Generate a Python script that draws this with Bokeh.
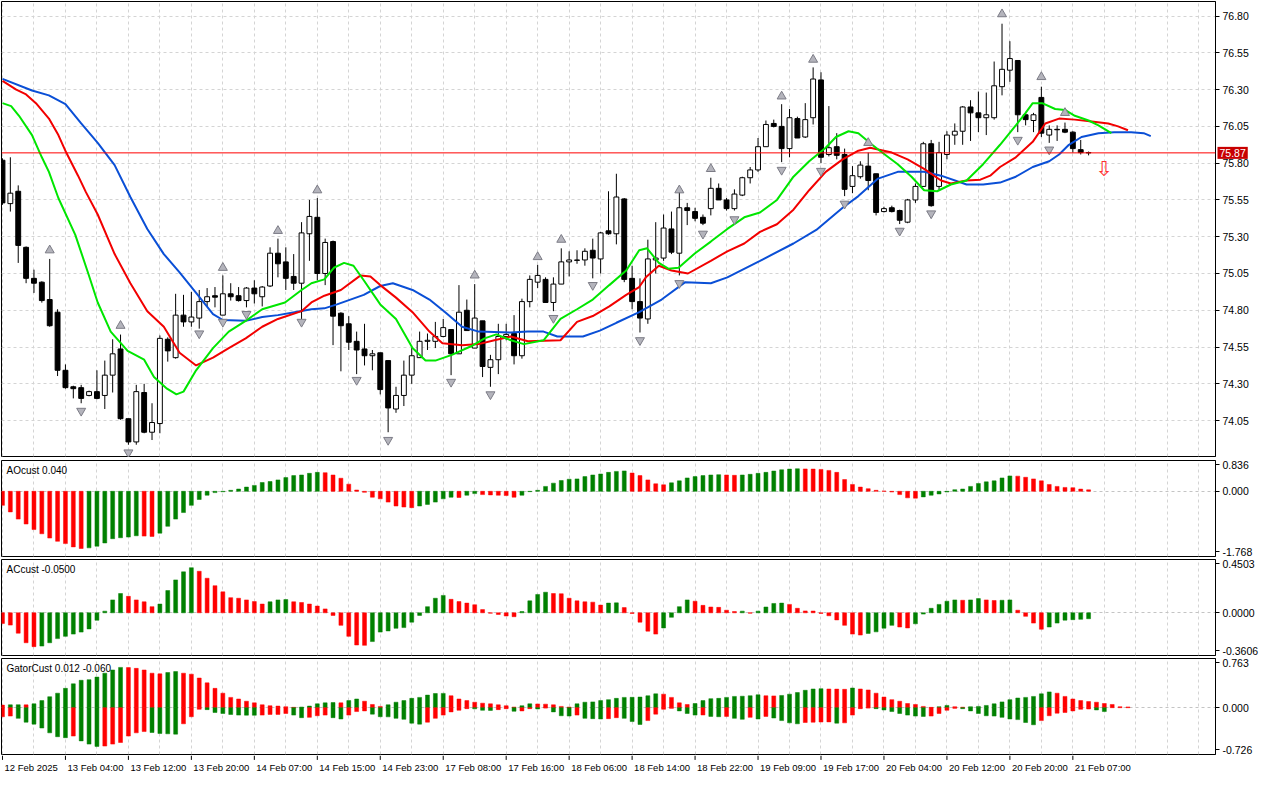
from bokeh.plotting import figure
from bokeh.models import Range1d, FixedTicker, Grid, Span, Label, PrintfTickFormatter
from bokeh.layouts import column
from bokeh.embed import file_html
from bokeh.resources import INLINE
from bokeh.core.properties import value

# ---------------- data ----------------
opens = [75.820, 75.525, 75.609, 75.228, 75.017, 74.991, 74.873, 74.787, 74.392, 74.280,
         74.274, 74.221, 74.247, 74.221, 74.359, 74.537, 74.063, 73.905, 74.241, 73.971,
         74.030, 74.603, 74.478, 74.767, 74.721, 74.747, 74.859, 74.899, 74.767, 74.912,
         74.899, 74.866, 74.951, 74.892, 74.965, 75.188, 75.129, 75.030, 74.984, 75.320,
         75.432, 75.050, 75.267, 74.780, 74.708, 74.589, 74.537, 74.491, 74.511, 74.458,
         74.129, 74.221, 74.359, 74.478, 74.589, 74.589, 74.622, 74.669, 74.504, 74.800,
         74.543, 74.728, 74.412, 74.464, 74.622, 74.642, 74.491, 74.859, 74.991, 75.010,
         74.853, 74.978, 75.129, 75.139, 75.142, 75.208, 75.149, 75.340, 75.320, 75.557,
         75.017, 74.859, 74.741, 75.142, 75.155, 75.353, 75.188, 75.497, 75.471, 75.432,
         75.491, 75.629, 75.550, 75.491, 75.583, 75.701, 75.754, 75.912, 76.070, 76.050,
         75.899, 76.103, 75.978, 76.109, 76.366, 75.859, 75.912, 75.859, 75.642, 75.708,
         75.780, 75.728, 75.471, 75.497, 75.478, 75.399, 75.550, 75.642, 75.932, 75.642,
         75.859, 75.991, 76.017, 76.182, 76.142, 76.109, 76.109, 76.320, 76.432, 76.498,
         76.129, 76.090, 76.247, 75.991, 76.030, 76.030, 76.011, 75.892, 75.872]
highs = [75.833, 75.840, 75.649, 75.234, 75.076, 74.997, 75.149, 74.807, 74.432, 74.287,
         74.293, 74.254, 74.392, 74.458, 74.603, 74.635, 74.063, 74.293, 74.300, 74.168,
         74.629, 74.616, 74.912, 74.905, 74.925, 74.938, 74.951, 74.958, 75.037, 74.984,
         74.958, 74.958, 75.004, 74.965, 75.228, 75.287, 75.228, 75.182, 75.399, 75.550,
         75.563, 75.287, 75.274, 74.787, 74.760, 74.655, 74.708, 74.530, 74.511, 74.458,
         74.280, 74.458, 74.543, 74.655, 74.642, 74.721, 74.741, 74.669, 74.971, 74.873,
         74.978, 74.728, 74.497, 74.708, 74.708, 74.767, 74.879, 75.037, 75.109, 75.024,
         75.024, 75.221, 75.201, 75.208, 75.221, 75.287, 75.333, 75.609, 75.728, 75.563,
         75.103, 75.017, 75.280, 75.399, 75.451, 75.471, 75.609, 75.530, 75.497, 75.451,
         75.701, 75.662, 75.563, 75.622, 75.708, 75.774, 75.971, 76.090, 76.096, 76.201,
         76.168, 76.116, 76.208, 76.451, 76.418, 76.188, 76.004, 75.899, 75.780, 75.813,
         75.872, 75.728, 75.504, 75.511, 75.484, 75.557, 75.662, 75.945, 75.958, 75.945,
         76.017, 76.070, 76.188, 76.228, 76.287, 76.280, 76.491, 76.748, 76.629, 76.498,
         76.142, 76.142, 76.320, 76.057, 76.057, 76.076, 76.017, 75.958, 75.879]
lows = [75.517, 75.471, 75.122, 74.984, 74.918, 74.852, 74.688, 74.353, 74.267, 74.201,
        74.168, 74.215, 74.195, 74.129, 74.241, 74.056, 73.886, 73.886, 73.964, 73.918,
        73.964, 74.451, 74.471, 74.688, 74.688, 74.675, 74.826, 74.820, 74.767, 74.866,
        74.859, 74.820, 74.846, 74.826, 74.958, 75.024, 74.938, 74.938, 74.741, 75.136,
        75.004, 74.971, 74.563, 74.385, 74.530, 74.366, 74.425, 74.392, 74.228, 73.971,
        74.103, 74.149, 74.300, 74.478, 74.530, 74.543, 74.616, 74.359, 74.504, 74.662,
        74.543, 74.346, 74.280, 74.366, 74.596, 74.432, 74.471, 74.820, 74.951, 74.853,
        74.794, 74.978, 75.030, 75.116, 75.103, 75.017, 75.050, 75.313, 75.248, 74.991,
        74.807, 74.649, 74.708, 75.050, 75.136, 75.182, 75.037, 75.379, 75.405, 75.379,
        75.445, 75.550, 75.478, 75.478, 75.576, 75.662, 75.741, 75.912, 76.043, 75.807,
        75.840, 75.971, 75.971, 76.063, 75.800, 75.846, 75.826, 75.576, 75.596, 75.695,
        75.616, 75.445, 75.465, 75.465, 75.386, 75.392, 75.530, 75.642, 75.504, 75.616,
        75.826, 75.925, 75.925, 75.951, 76.011, 75.991, 76.096, 76.261, 76.353, 76.011,
        76.057, 76.011, 75.978, 75.938, 75.951, 76.004, 75.872, 75.859, 75.853]
closes = [75.530, 75.596, 75.241, 75.017, 74.984, 74.866, 74.695, 74.392, 74.274, 74.267,
          74.201, 74.247, 74.201, 74.359, 74.504, 74.063, 73.905, 74.247, 73.971, 74.037,
          74.609, 74.524, 74.767, 74.721, 74.754, 74.859, 74.892, 74.889, 74.912, 74.892,
          74.866, 74.951, 74.912, 74.958, 75.188, 75.116, 75.017, 74.984, 75.326, 75.438,
          75.050, 75.261, 74.760, 74.695, 74.583, 74.530, 74.491, 74.504, 74.261, 74.136,
          74.221, 74.359, 74.491, 74.589, 74.596, 74.622, 74.682, 74.504, 74.787, 74.662,
          74.747, 74.418, 74.464, 74.622, 74.636, 74.491, 74.859, 75.010, 75.037, 74.853,
          74.978, 75.129, 75.142, 75.142, 75.201, 75.155, 75.326, 75.320, 75.570, 75.010,
          74.859, 74.747, 75.149, 75.155, 75.359, 75.195, 75.497, 75.478, 75.425, 75.392,
          75.629, 75.550, 75.491, 75.590, 75.701, 75.754, 75.912, 76.063, 76.050, 75.899,
          76.109, 75.971, 76.096, 76.372, 75.840, 75.905, 75.853, 75.622, 75.715, 75.787,
          75.682, 75.465, 75.491, 75.471, 75.412, 75.550, 75.642, 75.932, 75.511, 75.872,
          75.991, 76.017, 76.182, 76.142, 76.109, 76.129, 76.326, 76.438, 76.511, 76.129,
          76.096, 76.129, 76.004, 76.030, 76.027, 76.011, 75.899, 75.872, 75.870]

# Alligator lines (bar position, price)
jaw_x = [0, 3.75, 5.9, 8, 10, 12.1, 14.25, 16.25, 18.4, 20.5, 22.5, 24.6, 26.75, 28, 30.9, 33, 35, 37.1,
         39.25, 40.9, 42.5, 45.9, 48, 49.6, 52.1, 54.25, 56.25, 58.4, 60.5, 64.6, 66.75, 68.75, 70.5,
         73.75, 75.9, 78, 80.9, 83.75, 86.75, 90, 92.1, 96.25, 100.5, 103.4, 106.75, 108.75, 111.25,
         113.75, 117.1, 119.25, 122.5, 124.6, 126.75, 128.75, 130.9, 133, 134.25, 135.5, 137.1, 139.25,
         141.25, 143.4, 145, 145.9]
jaw_y = [76.373, 76.294, 76.261, 76.201, 76.070, 75.938, 75.787, 75.570, 75.353, 75.182, 75.057, 74.918,
         74.774, 74.734, 74.728, 74.754, 74.767, 74.787, 74.807, 74.813, 74.840, 74.905, 74.965, 74.984,
         74.938, 74.873, 74.787, 74.688, 74.655, 74.649, 74.655, 74.655, 74.622, 74.622, 74.662, 74.715,
         74.787, 74.873, 74.991, 74.984, 75.024, 75.136, 75.254, 75.346, 75.497, 75.576, 75.695, 75.741,
         75.741, 75.715, 75.655, 75.655, 75.668, 75.708, 75.774, 75.813, 75.859, 75.925, 75.978, 76.004,
         76.011, 76.011, 76.004, 75.984]
teeth_x = [0, 1.75, 3, 4.25, 5.9, 7.1, 8.1, 9.6, 10.6, 12.1, 14.25, 16.25, 18.4, 20.5, 22.5, 24.6, 26.75,
           28.75, 30.9, 33, 35, 38, 39.25, 40.9, 43, 45.5, 46.75, 48, 50, 52.1, 54.25, 55.9, 58.4, 60.5,
           62.5, 64.6, 66.75, 70.9, 73, 75, 77.1, 79.25, 80.9, 81.75, 83.4, 85, 87.1, 90, 92.1, 94.25,
           96.25, 98.4, 100.5, 102.5, 104.6, 106.75, 108.75, 110.25, 113, 115, 117.1, 119.25, 120.5,
           122.5, 124.25, 125.5, 126.75, 128.75, 130.9, 132.5, 134.25, 136.25, 138.4, 140.5, 141.75, 143]
teeth_y = [76.359, 76.300, 76.267, 76.208, 76.103, 75.991, 75.872, 75.715, 75.603, 75.451, 75.182, 74.984,
           74.794, 74.688, 74.511, 74.425, 74.478, 74.543, 74.609, 74.688, 74.741, 74.794, 74.853, 74.899,
           74.938, 75.037, 75.030, 74.971, 74.886, 74.787, 74.655, 74.576, 74.563, 74.570, 74.596, 74.622,
           74.589, 74.596, 74.721, 74.761, 74.827, 74.905, 74.958, 75.024, 75.103, 75.070, 75.050, 75.136,
           75.201, 75.254, 75.333, 75.385, 75.484, 75.616, 75.741, 75.826, 75.885, 75.905, 75.872, 75.826,
           75.761, 75.682, 75.662, 75.682, 75.688, 75.715, 75.774, 75.840, 75.945, 76.070, 76.103, 76.096,
           76.083, 76.070, 76.050, 76.024]
lips_x = [0, 1.1, 2.1, 3.75, 5, 5.9, 7.1, 9.25, 10.9, 12.1, 13.75, 15.9, 18, 19.25, 20.9, 22.1, 23, 24.6,
          26.75, 28.75, 30.9, 33, 35.9, 38, 39.25, 40.9, 42.1, 43.4, 44.6, 45.9, 48, 50, 52.1, 53.75, 55,
          57.1, 59.6, 61.25, 62.75, 64.6, 66.25, 68.75, 70.9, 73, 75, 77.1, 79.25, 80.9, 81.9, 83.4, 84.6,
          85.9, 88, 90, 92.1, 94.25, 96.25, 98.4, 100.5, 102.5, 104.6, 105.9, 107.5, 108.75, 110.5, 112.1,
          113.75, 115.5, 117.1, 118.75, 120.5, 122.5, 124.6, 126.75, 128.75, 130, 130.9, 132.1, 133.75,
          135, 136.25, 138, 139.25, 140.9]
lips_y = [76.208, 76.188, 76.122, 75.991, 75.840, 75.741, 75.563, 75.313, 75.050, 74.853, 74.655, 74.524,
          74.464, 74.346, 74.267, 74.228, 74.247, 74.392, 74.543, 74.655, 74.728, 74.807, 74.853, 74.938,
          74.984, 75.010, 75.089, 75.122, 75.103, 75.004, 74.840, 74.741, 74.543, 74.458, 74.458, 74.497,
          74.557, 74.609, 74.636, 74.596, 74.570, 74.596, 74.741, 74.807, 74.873, 74.971, 75.070, 75.208,
          75.221, 75.122, 75.083, 75.089, 75.188, 75.267, 75.353, 75.432, 75.465, 75.550, 75.708, 75.813,
          75.905, 75.978, 76.017, 76.004, 75.925, 75.859, 75.793, 75.708, 75.616, 75.609, 75.655, 75.682,
          75.793, 75.925, 76.057, 76.142, 76.208, 76.208, 76.168, 76.162, 76.122, 76.090, 76.057, 76.004]

# Fractal arrows (bar, price of the arrow)
frac_up_bar = [6, 15, 28, 35, 40, 60, 68, 71, 86, 90, 99, 103, 110, 127, 132, 135]
frac_up_price = [75.208, 74.695, 75.089, 75.340, 75.616, 75.037, 75.162, 75.280, 75.616, 75.761,
                 76.254, 76.504, 75.938, 76.813, 76.386, 76.142]
frac_dn_bar = [10, 16, 25, 28, 31, 38, 45, 49, 57, 62, 70, 75, 81, 86, 89, 93, 99, 104, 107, 114,
               118, 129, 133]
frac_dn_price = [74.116, 73.833, 74.642, 74.721, 74.774, 74.721, 74.326, 73.918, 74.313, 74.228,
                 74.747, 74.971, 74.596, 74.984, 75.320, 75.418, 75.754, 75.747, 75.524, 75.340,
                 75.458, 75.958, 75.892]
signal_bar = [140]
signal_price = [75.845]
current_price = 75.87

price_ticks = [74.05, 74.30, 74.55, 74.80, 75.05, 75.30, 75.55, 75.80, 76.05, 76.30, 76.55, 76.80]

ao = [-0.381, -0.559, -0.754, -0.887, -1.037, -1.152, -1.268, -1.356, -1.418, -1.507,
      -1.551, -1.534, -1.489, -1.401, -1.285, -1.259, -1.241, -1.206, -1.215, -1.223,
      -1.135, -0.949, -0.754, -0.576, -0.381, -0.222, -0.106, -0.035, -0.012, 0.027,
      0.062, 0.115, 0.160, 0.239, 0.266, 0.310, 0.372, 0.426, 0.443, 0.488,
      0.514, 0.505, 0.443, 0.355, 0.195, 0.035, -0.027, -0.160, -0.204, -0.293,
      -0.399, -0.426, -0.443, -0.399, -0.355, -0.293, -0.204, -0.160, -0.168, -0.106,
      -0.062, -0.089, -0.098, -0.106, -0.115, -0.160, -0.106, -0.009, 0.027, 0.133,
      0.222, 0.293, 0.328, 0.337, 0.399, 0.443, 0.470, 0.514, 0.540, 0.553,
      0.496, 0.426, 0.310, 0.204, 0.177, 0.230, 0.284, 0.363, 0.399, 0.426,
      0.443, 0.452, 0.443, 0.434, 0.443, 0.461, 0.488, 0.514, 0.550, 0.585,
      0.603, 0.612, 0.607, 0.603, 0.594, 0.567, 0.514, 0.319, 0.186, 0.115,
      0.071, 0.027, 0.009, -0.018, -0.089, -0.177, -0.186, -0.151, -0.106, -0.071,
      -0.018, 0.044, 0.062, 0.133, 0.213, 0.257, 0.284, 0.363, 0.417, 0.412,
      0.381, 0.337, 0.284, 0.186, 0.133, 0.106, 0.098, 0.060, 0.040]
ac = [-0.090, -0.104, -0.172, -0.253, -0.286, -0.281, -0.253, -0.218, -0.199, -0.180,
      -0.163, -0.136, -0.063, 0.014, 0.109, 0.163, 0.139, 0.109, 0.093, 0.052,
      0.074, 0.188, 0.278, 0.346, 0.381, 0.351, 0.292, 0.229, 0.177, 0.128,
      0.123, 0.109, 0.095, 0.074, 0.093, 0.109, 0.112, 0.093, 0.087, 0.074,
      0.057, 0.033, -0.022, -0.106, -0.199, -0.272, -0.275, -0.243, -0.163, -0.153,
      -0.131, -0.125, -0.079, -0.022, 0.052, 0.123, 0.147, 0.114, 0.095, 0.082,
      0.068, 0.027, -0.003, -0.014, -0.027, -0.033, 0.011, 0.101, 0.155, 0.174,
      0.163, 0.161, 0.123, 0.101, 0.093, 0.090, 0.065, 0.082, 0.084, 0.044,
      -0.005, -0.079, -0.155, -0.180, -0.128, -0.038, 0.052, 0.109, 0.098, 0.063,
      0.049, 0.046, 0.022, 0.011, 0.014, -0.003, 0.014, 0.049, 0.079, 0.082,
      0.071, 0.038, 0.016, 0.015, -0.005, -0.025, -0.060, -0.106, -0.180, -0.188,
      -0.174, -0.161, -0.130, -0.106, -0.120, -0.128, -0.093, -0.011, 0.038, 0.071,
      0.098, 0.109, 0.106, 0.109, 0.120, 0.109, 0.104, 0.106, 0.109, 0.022,
      -0.030, -0.087, -0.139, -0.120, -0.087, -0.062, -0.058, -0.055, -0.050]
gator_up = [0.040, 0.045, 0.046, 0.044, 0.060, 0.110, 0.170, 0.225, 0.300, 0.370,
            0.425, 0.435, 0.475, 0.535, 0.585, 0.625, 0.622, 0.610, 0.585, 0.535,
            0.525, 0.545, 0.560, 0.535, 0.520, 0.460, 0.385, 0.300, 0.225, 0.160,
            0.135, 0.100, 0.075, 0.045, 0.030, 0.025, 0.015, 0.006, 0.010, 0.025,
            0.060, 0.075, 0.080, 0.075, 0.110, 0.135, 0.100, 0.050, 0.020, 0.045,
            0.085, 0.110, 0.145, 0.160, 0.195, 0.220, 0.222, 0.185, 0.135, 0.110,
            0.085, 0.070, 0.060, 0.045, 0.030, 0.010, 0.030, 0.060, 0.058, 0.055,
            0.045, 0.020, 0.010, 0.060, 0.085, 0.090, 0.110, 0.125, 0.145, 0.160,
            0.161, 0.165, 0.185, 0.215, 0.210, 0.160, 0.075, 0.050, 0.065, 0.110,
            0.140, 0.145, 0.160, 0.175, 0.178, 0.185, 0.200, 0.185, 0.183, 0.190,
            0.210, 0.235, 0.270, 0.290, 0.295, 0.290, 0.288, 0.285, 0.305, 0.290,
            0.275, 0.225, 0.165, 0.125, 0.100, 0.065, 0.050, 0.020, 0.005, 0.015,
            0.035, 0.015, 0.008, 0.015, 0.020, 0.035, 0.060, 0.090, 0.125, 0.150,
            0.160, 0.175, 0.215, 0.245, 0.225, 0.175, 0.135, 0.110, 0.095, 0.085,
            0.065, 0.050, 0.015, 0.012]
gator_dn = [-0.140, -0.130, -0.165, -0.225, -0.255, -0.315, -0.390, -0.450, -0.465, -0.440,
            -0.515, -0.565, -0.600, -0.595, -0.565, -0.540, -0.440, -0.390, -0.370, -0.385,
            -0.400, -0.405, -0.410, -0.250, -0.140, -0.025, -0.030, -0.075, -0.090, -0.105,
            -0.115, -0.116, -0.117, -0.115, -0.105, -0.104, -0.090, -0.115, -0.155, -0.150,
            -0.125, -0.115, -0.155, -0.175, -0.115, -0.060, -0.050, -0.100, -0.140, -0.142,
            -0.165, -0.180, -0.240, -0.255, -0.225, -0.165, -0.115, -0.065, -0.040, -0.015,
            -0.018, -0.040, -0.042, -0.030, -0.015, -0.055, -0.050, -0.015, -0.020, -0.005,
            -0.065, -0.125, -0.130, -0.115, -0.165, -0.170, -0.175, -0.170, -0.155, -0.165,
            -0.215, -0.260, -0.200, -0.100, -0.025, -0.010, -0.050, -0.090, -0.115, -0.113,
            -0.135, -0.140, -0.135, -0.165, -0.180, -0.150, -0.175, -0.135, -0.160, -0.200,
            -0.235, -0.250, -0.230, -0.225, -0.222, -0.220, -0.240, -0.235, -0.115, -0.015,
            -0.005, -0.015, -0.035, -0.060, -0.090, -0.115, -0.130, -0.135, -0.130, -0.090,
            -0.040, -0.010, -0.015, -0.050, -0.090, -0.125, -0.130, -0.150, -0.175, -0.185,
            -0.230, -0.265, -0.200, -0.125, -0.085, -0.075, -0.050, -0.025, -0.020, -0.035,
            -0.060]

ao_range = (-1.768, 0.836)
ac_range = (-0.3606, 0.4503)
gator_range = (-0.726, 0.763)
ao_label = "AOcust 0.040"
ac_label = "ACcust -0.0500"
gator_label = "GatorCust 0.012 -0.060"

date_tick_bars = [0, 8, 16, 24, 32, 40, 48, 56, 64, 72, 80, 88, 96, 104, 112, 120, 128, 136]
date_labels = ["12 Feb 2025", "13 Feb 04:00", "13 Feb 12:00", "13 Feb 20:00", "14 Feb 07:00",
               "14 Feb 15:00", "14 Feb 23:00", "17 Feb 08:00", "17 Feb 16:00", "18 Feb 06:00",
               "18 Feb 14:00", "18 Feb 22:00", "19 Feb 09:00", "19 Feb 17:00", "20 Feb 04:00",
               "20 Feb 12:00", "20 Feb 20:00", "21 Feb 07:00"]

# ---------------- styling ----------------
FONT = "Liberation Sans"
FS = "10.5px"
FW = 1214
GREEN = "#008000"
RED = "#ff0000"
GRID_COLOR = "#d4d4d4"
XR = Range1d(-0.125, 154.125)
grid_bars = list(range(0, 156, 4))


def make_fig(frame_h, y_lo, y_hi, top_border=2, bottom_border=1):
    p = figure(frame_width=FW, frame_height=frame_h, x_range=XR, y_range=Range1d(y_lo, y_hi),
               output_backend="svg", toolbar_location=None, x_axis_location=None,
               y_axis_location="right", min_border_left=1, min_border_right=2,
               min_border_top=top_border, min_border_bottom=bottom_border,
               background_fill_color="white", border_fill_color="white")
    p.outline_line_color = "black"
    p.outline_line_width = 1
    p.outline_line_alpha = 1.0
    for g in p.grid:
        g.visible = False
    p.add_layout(Grid(dimension=0, ticker=FixedTicker(ticks=grid_bars),
                      grid_line_color=GRID_COLOR, grid_line_dash="3 3"))
    ax = p.yaxis[0]
    ax.axis_line_color = "black"
    ax.major_tick_line_color = "black"
    ax.major_tick_out = 4
    ax.major_tick_in = 0
    ax.minor_tick_line_color = None
    ax.major_label_text_font = FONT
    ax.major_label_text_font_size = FS
    ax.major_label_text_color = "black"
    ax.major_label_standoff = 3
    return p


def updown_colors(vals, use_abs=False):
    cols = []
    for i, v in enumerate(vals):
        if i == 0:
            cols.append(RED)
            continue
        a, b = (abs(v), abs(vals[i - 1])) if use_abs else (v, vals[i - 1])
        cols.append(GREEN if a > b else RED)
    return cols


# ---------------- main price panel ----------------
n = len(closes)
idx = list(range(n))
main = make_fig(455, 73.806, 76.899, top_border=1, bottom_border=2)
main.yaxis[0].ticker = FixedTicker(ticks=price_ticks)
main.yaxis[0].formatter = PrintfTickFormatter(format="%.2f")
main.add_layout(Grid(dimension=1, ticker=FixedTicker(ticks=price_ticks),
                     grid_line_color=GRID_COLOR, grid_line_dash="3 3"))

main.segment(x0=idx, y0=lows, x1=idx, y1=highs, line_color="black", line_width=1)
body_top = [max(o, c) for o, c in zip(opens, closes)]
body_bot = [min(o, c) for o, c in zip(opens, closes)]
body_fill = ["white" if c >= o else "black" for o, c in zip(opens, closes)]
main.vbar(x=idx, top=body_top, bottom=body_bot, width=0.62, fill_color=body_fill,
          line_color="black", line_width=1)

main.add_layout(Span(location=current_price, dimension="width", line_color="#ff0000", line_width=1))

main.line(jaw_x, jaw_y, line_color="#0a4fd6", line_width=2)
main.line(teeth_x, teeth_y, line_color="#f20000", line_width=2)
main.line(lips_x, lips_y, line_color="#00e600", line_width=2)

main.scatter(frac_up_bar, frac_up_price, marker="triangle", size=9,
             fill_color="#b4b4bc", line_color="#7c7c86", line_width=1)
main.scatter(frac_dn_bar, frac_dn_price, marker="inverted_triangle", size=9,
             fill_color="#b4b4bc", line_color="#7c7c86", line_width=1)

main.text(x=signal_bar, y=signal_price, text=["\u21e9"], text_color="#ff3030",
          text_font=value("DejaVu Sans"), text_font_size="21px",
          text_align="center", text_baseline="top")

# current price tag sits on the price axis (side panel, so it is not clipped to the frame)
main.add_layout(Label(x=XR.end, y=current_price, text=f"{current_price:.2f}", x_offset=2,
                      text_baseline="middle", text_align="left", text_color="white",
                      text_font=FONT, text_font_size=FS,
                      background_fill_color="#c80000", padding=2), "right")


# ---------------- indicator panels ----------------
def indicator(vals_list, rng, fmt, label):
    lo, hi = rng
    span = hi - lo
    p = make_fig(96, lo, hi)
    t_hi = hi - 0.045 * span
    t_lo = lo + 0.05 * span
    p.yaxis[0].ticker = FixedTicker(ticks=[t_lo, 0.0, t_hi])
    p.yaxis[0].major_label_overrides = {t_lo: fmt % lo, 0.0: fmt % 0.0, t_hi: fmt % hi}
    p.add_layout(Grid(dimension=1, ticker=FixedTicker(ticks=[0.0]),
                      grid_line_color="#c4c4c4", grid_line_dash="3 3"))
    for vals, use_abs in vals_list:
        xs = list(range(len(vals)))
        cols = updown_colors(vals, use_abs)
        p.vbar(x=xs, top=vals, bottom=0, width=0.5, fill_color=cols, line_color=cols, line_width=0.5)
    p.text(x=[XR.start], y=[hi], text=[label], x_offset=5, y_offset=4,
           text_baseline="top", text_align="left", text_color="black",
           text_font=value(FONT), text_font_size="10px")
    return p


ao_fig = indicator([(ao, False)], ao_range, "%.3f", ao_label)
ac_fig = indicator([(ac, False)], ac_range, "%.4f", ac_label)
gator_fig = indicator([(gator_up, True), (gator_dn, True)], gator_range, "%.3f", gator_label)

# ---------------- date strip ----------------
strip = figure(frame_width=FW, frame_height=20, x_range=XR, y_range=Range1d(0, 1),
               output_backend="svg", toolbar_location=None, x_axis_location=None,
               y_axis_location=None, min_border_left=1, min_border_right=2,
               min_border_top=0, min_border_bottom=0, outline_line_color=None,
               background_fill_color="white", border_fill_color="white")
for g in strip.grid:
    g.visible = False
strip.segment(x0=date_tick_bars, y0=[1.0] * len(date_tick_bars), x1=date_tick_bars,
              y1=[0.78] * len(date_tick_bars), line_color="black", line_width=1)
strip.text(x=date_tick_bars, y=[0.42] * len(date_tick_bars), text=date_labels, x_offset=2,
           text_align="left", text_baseline="middle", text_color="black",
           text_font=value(FONT), text_font_size="9.5px")

layout = column(main, ao_fig, ac_fig, gator_fig, strip, spacing=0)
open("out.html", "w").write(file_html(layout, INLINE))
